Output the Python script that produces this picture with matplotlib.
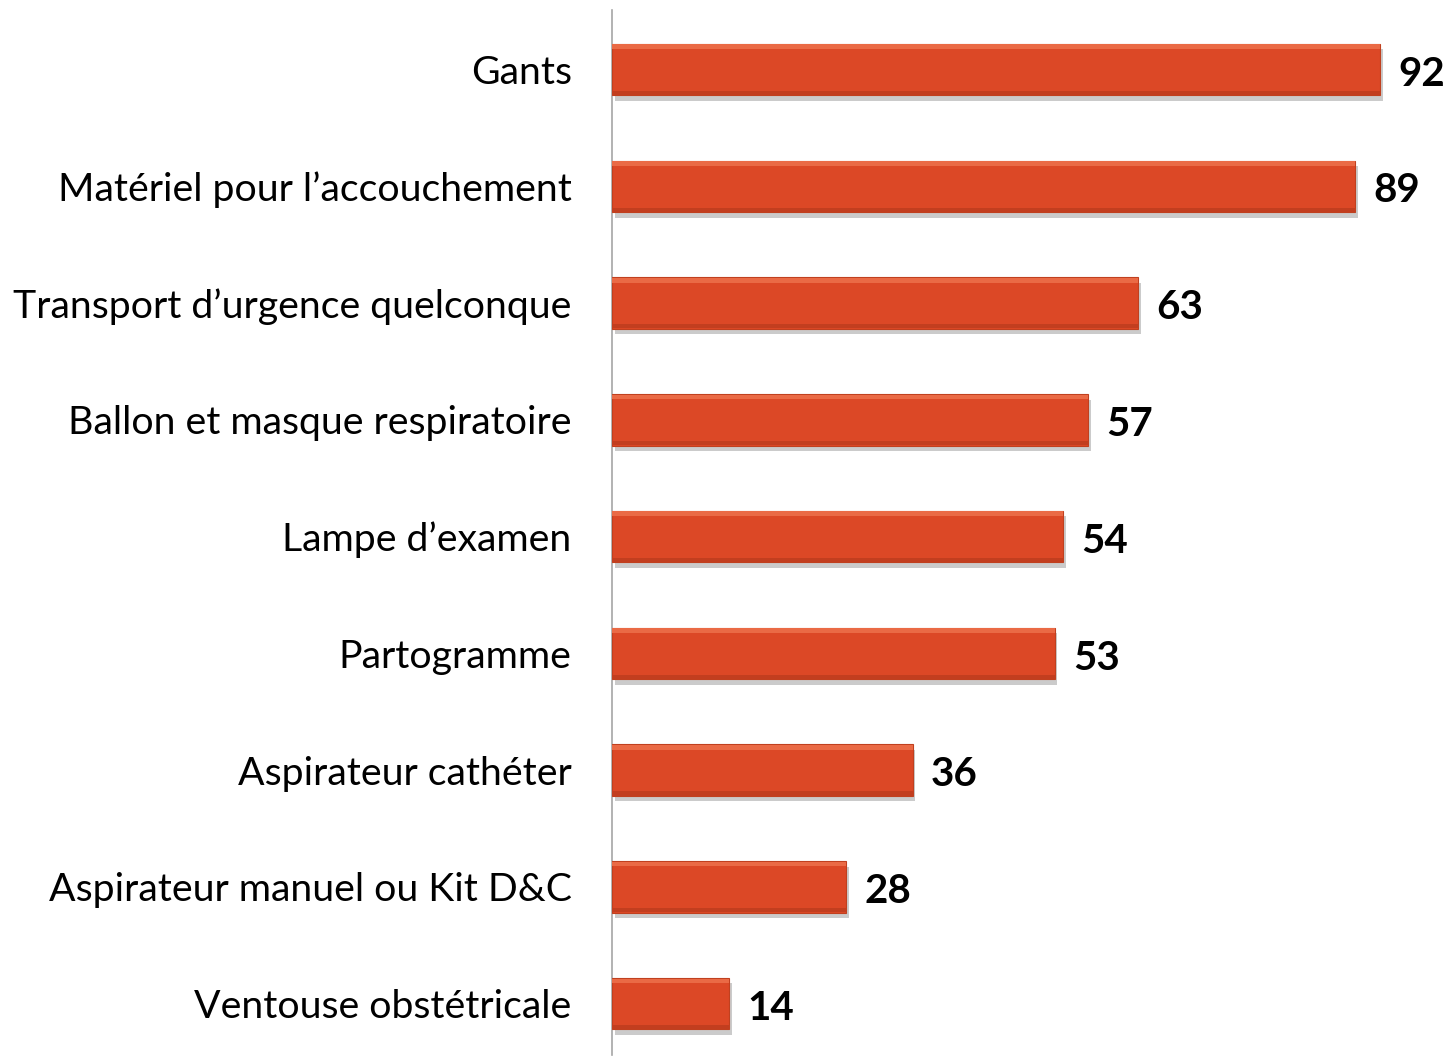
import matplotlib
matplotlib.use("Agg")
import matplotlib.pyplot as plt
import matplotlib.patheffects as pe

categories = ["Gants", "Matériel pour l’accouchement", "Transport d’urgence quelconque",
              "Ballon et masque respiratoire", "Lampe d’examen", "Partogramme",
              "Aspirateur cathéter", "Aspirateur manuel ou Kit D&C", "Ventouse obstétricale"]
values = [92, 89, 63, 57, 54, 53, 36, 28, 14]

plt.rcParams['font.family'] = ['Lato', 'DejaVu Sans']

fig = plt.figure(figsize=(14.47, 10.61), dpi=100)
ax = fig.add_axes([612/1447, 1 - 1055/1061, 1 - 612/1447, (1055 - 10)/1061])

pos = list(range(len(categories)))
h = 0.44
ax.barh(pos, values, height=h, color="#DC4826", edgecolor="#C0401F", linewidth=0.8,
        zorder=3,
        path_effects=[pe.SimplePatchShadow(offset=(2, -4), shadow_rgbFace="#8C8C8C", alpha=0.45),
                      pe.Normal()])
# bevel highlights
ax.barh([p - h/2 + 0.025 for p in pos], values, height=0.04, color="#EA6A45", linewidth=0, zorder=4)
ax.barh([p + h/2 - 0.02 for p in pos], values, height=0.035, color="#C23E1F", linewidth=0, zorder=4)

for p, v in zip(pos, values):
    ax.text(v + 2.2, p + 0.04, str(v), va="center", ha="left", fontsize=29, fontweight="bold", color="black")

ax.set_xlim(0, 100)
ax.set_ylim(8.44, -0.51)
ax.set_yticks(pos)
ax.set_yticklabels(categories, fontsize=28.3)
ax.tick_params(axis="y", length=0, pad=29)
ax.set_xticks([])
for s in ["top", "right", "bottom"]:
    ax.spines[s].set_visible(False)
ax.spines["left"].set_color("#A6A6A6")
ax.spines["left"].set_linewidth(1.2)

fig.savefig("out.png", dpi=100)
